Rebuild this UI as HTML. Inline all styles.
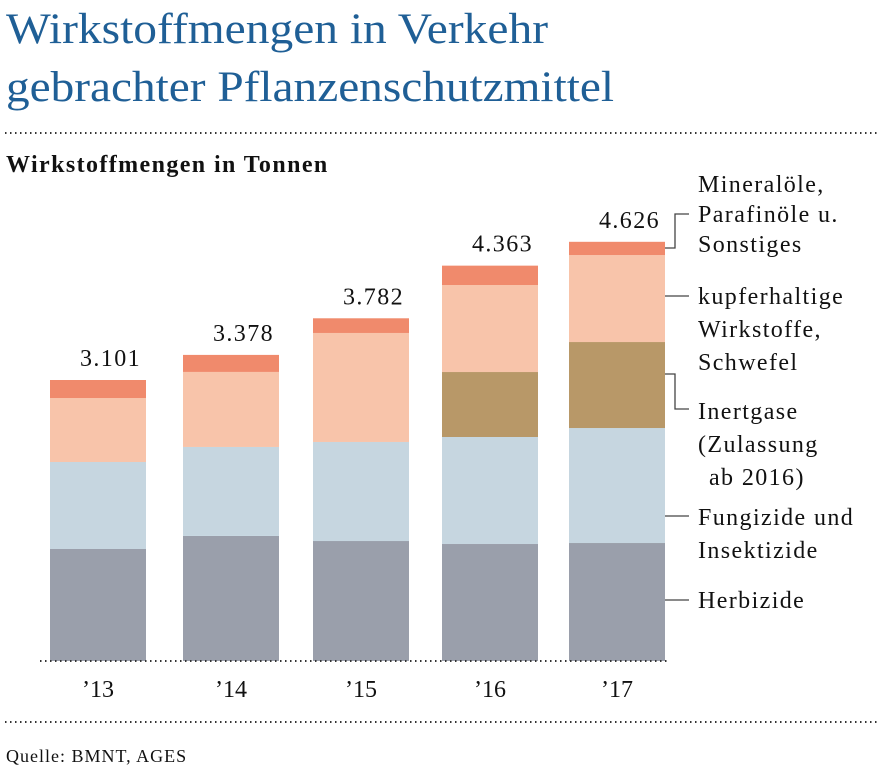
<!DOCTYPE html>
<html><head><meta charset="utf-8">
<style>
body{margin:0;background:#fff;}
svg{display:block;font-family:"Liberation Serif",serif;}
</style></head><body>
<svg width="883" height="771">
<text x="6" y="43" font-size="43" fill="#1f5f96" textLength="542" lengthAdjust="spacingAndGlyphs">Wirkstoffmengen in Verkehr</text>
<text x="6" y="101" font-size="43" fill="#1f5f96" textLength="608" lengthAdjust="spacingAndGlyphs">gebrachter Pflanzenschutzmittel</text>
<line x1="5" y1="133" x2="878" y2="133" stroke="#333" stroke-width="2" stroke-dasharray="1.5,3.5"/>
<text x="6" y="172" font-size="24" font-weight="bold" letter-spacing="1.4" fill="#111">Wirkstoffmengen in Tonnen</text>
<g id="bars"></g>
<line x1="40" y1="661" x2="668" y2="661" stroke="#333" stroke-width="2" stroke-dasharray="1.5,3.5"/>
<line x1="5" y1="722" x2="878" y2="722" stroke="#333" stroke-width="2" stroke-dasharray="1.5,3.5"/>
<text x="6" y="762" font-size="18" letter-spacing="1" fill="#111">Quelle: BMNT, AGES</text>
<g stroke="#444" stroke-width="1.3" fill="none">
<polyline points="665,248 675,248 675,214 689,214"/>
<polyline points="665,296 689,296"/>
<polyline points="665,374 675,374 675,409 689,409"/>
<polyline points="665,516 689,516"/>
<polyline points="665,600 689,600"/>
</g>
<g font-size="24" letter-spacing="1.4" fill="#111">
<text x="698" y="192"><tspan x="698">Mineralöle,</tspan><tspan x="698" dy="30">Parafinöle u.</tspan><tspan x="698" dy="30">Sonstiges</tspan></text>
<text x="698" y="304"><tspan x="698">kupferhaltige</tspan><tspan x="698" dy="33">Wirkstoffe,</tspan><tspan x="698" dy="33">Schwefel</tspan></text>
<text x="698" y="419"><tspan x="698">Inertgase</tspan><tspan x="698" dy="33">(Zulassung</tspan><tspan x="709" dy="33">ab 2016)</tspan></text>
<text x="698" y="525"><tspan x="698">Fungizide und</tspan><tspan x="698" dy="33">Insektizide</tspan></text>
<text x="698" y="608">Herbizide</text>
</g>
</svg>
<script>
const years=["’13","’14","’15","’16","’17"];
const herbizide=[1236,1380,1324,1291,1302];
const fungizide=[960,982,1093,1181,1269];
const inertgase=[0,0,0,717,949];
const kupfer=[706,828,1203,960,960];
const mineral=[199,188,162,214,146];
const totals=["3.101","3.378","3.782","4.363","4.626"];
const series=[herbizide,fungizide,inertgase,kupfer,mineral];
const names=["herbizide","fungizide","inertgase","kupfer","mineral"];
const colors=["#9a9fab","#c6d6e0","#b89868","#f8c4aa","#f08a6c"];
const base=661, scale=281/3101;
const xs=[50,183,313,442,569], bw=96;
function y(v){return base-v*scale;}
const g=document.getElementById('bars');
const ns="http://www.w3.org/2000/svg";
years.forEach((yr,i)=>{
  let acc=0;
  series.forEach((s,k)=>{
    if(!s[i])return;
    const r=document.createElementNS(ns,'rect');
    r.setAttribute('x',xs[i]);r.setAttribute('width',bw);
    r.setAttribute('y',y(acc+s[i]));r.setAttribute('height',s[i]*scale);
    r.setAttribute('fill',colors[k]);
    
    
    g.appendChild(r);acc+=s[i];
  });
  const t=document.createElementNS(ns,'text');
  t.setAttribute('x',xs[i]+bw-5);t.setAttribute('y',y(acc)-14);
  t.setAttribute('text-anchor','end');t.setAttribute('font-size','24');t.setAttribute('letter-spacing','1.4');t.setAttribute('fill','#111');
  t.textContent=totals[i];
  
  
  g.appendChild(t);
  const l=document.createElementNS(ns,'text');
  l.setAttribute('x',xs[i]+bw/2);l.setAttribute('y',697);
  l.setAttribute('text-anchor','middle');l.setAttribute('font-size','24');l.setAttribute('fill','#111');
  l.textContent=yr;
  
  
  g.appendChild(l);
});
</script>
</body></html>
